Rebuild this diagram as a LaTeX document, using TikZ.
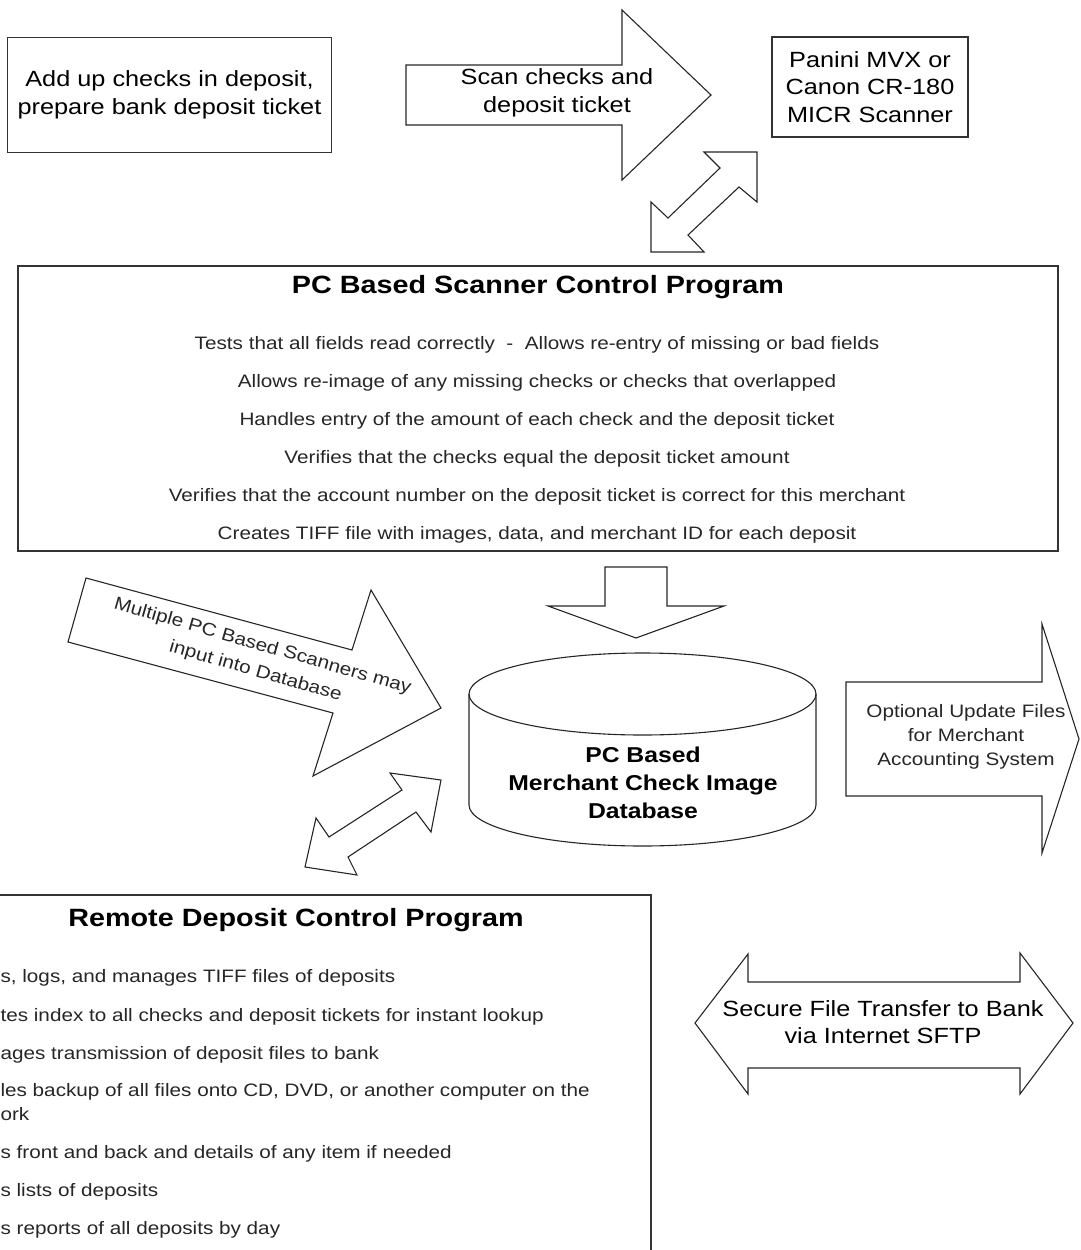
\documentclass[tikz,border=0pt]{standalone}
\usepackage{fontspec}
\setmainfont{Liberation Sans}[FakeStretch=1.15]

\begin{document}
\begin{tikzpicture}[x=1pt, y=-1pt, line width=1.1pt,
    box/.style={draw=black!80, line width=1.6pt, inner sep=0pt},
    freccia/.style={draw=black!85, line width=1.1pt, line join=miter},
    testo/.style={align=center, inner sep=0pt, font=\fontsize{22}{27.5}\selectfont},
    piccolo/.style={align=center, inner sep=0pt, text=black!85, font=\fontsize{18}{24}\selectfont},
    riga/.style={anchor=base, inner sep=0pt, text=black!85, font=\fontsize{18}{22}\selectfont},
    titolo/.style={inner sep=0pt, font=\bfseries\fontsize{25}{30}\selectfont}]

    % Margini della figura
    \useasboundingbox (0,0) rectangle (1080,1250);
    \clip (0,0) rectangle (1080,1250);

    % -- Parte Alta: preparazione e scanner --
    \node[box, testo, minimum width=324, minimum height=115] (somma) at (169.5,95)
        {Add up checks in deposit,\\prepare bank deposit ticket};

    \draw[freccia] (406,65) -- (622,65) -- (622,10) -- (711,95)
                   -- (622,180) -- (622,125) -- (406,125) -- cycle;
    \node[testo] (scansione) at (557,93) {Scan checks and\\deposit ticket};

    \node[box, testo, text depth=0pt, minimum width=196, minimum height=100] (scanner) at (870,87)
        {Panini MVX or\\Canon CR-180\\MICR Scanner};

    % Doppia freccia scanner <-> programma
    \draw[freccia] (704,152) -- (757,152) -- (757,202) -- (739,187) -- (688,235)
                   -- (704,252) -- (651,252) -- (651,202) -- (668,218) -- (720,168) -- cycle;

    % -- Parte Centrale: programma di controllo --
    \node[box, minimum width=1040, minimum height=285] (controllo) at (538,408.5) {};
    \node[titolo] (titoloPC) at (538,287) {PC Based Scanner Control Program};
    \node[riga] (r1) at (537,349) {Tests that all fields read correctly\ \ -\ \ Allows re-entry of missing or bad fields};
    \node[riga] (r2) at (537,387) {Allows re-image of any missing checks or checks that overlapped};
    \node[riga] (r3) at (537,425) {Handles entry of the amount of each check and the deposit ticket};
    \node[riga] (r4) at (537,463) {Verifies that the checks equal the deposit ticket amount};
    \node[riga] (r5) at (537,501) {Verifies that the account number on the deposit ticket is correct for this merchant};
    \node[riga] (r6) at (537,539) {Creates TIFF file with images, data, and merchant ID for each deposit};

    % Freccia verso il database
    \draw[freccia] (605,567) -- (667,567) -- (667,606) -- (724,606) -- (636,638)
                   -- (548,606) -- (605,606) -- cycle;

    % Database (cilindro)
    \draw[freccia] (469,694) -- (469,805) arc[start angle=180, end angle=0, x radius=173.5, y radius=41]
                   -- (816,694);
    \draw[freccia] (642.5,694) ellipse [x radius=173.5, y radius=41];
    \node[align=center, inner sep=0pt, font=\bfseries\fontsize{21.5}{28}\selectfont] (database) at (643,783)
        {PC Based\\Merchant Check Image\\Database};

    % Scanner multipli
    \draw[freccia] (86,578) -- (352,650) -- (371,590) -- (441,708) -- (313,776)
                   -- (333,713) -- (68,642) -- cycle;
    \node[piccolo, rotate=-16, font=\fontsize{18}{26}\selectfont] (multipli) at (259,659)
        {Multiple PC Based Scanners may\\input into Database};

    % Doppia freccia database <-> controllo remoto
    \draw[freccia] (390,773) -- (441,780) -- (431,832) -- (416,812) -- (348,857)
                   -- (357,875) -- (305,867) -- (316,818) -- (329,837) -- (402,790) -- cycle;

    % -- Parte Destra: aggiornamenti e trasferimento --
    \draw[freccia] (846,682) -- (1042,682) -- (1042,624) -- (1079,739) -- (1042,853)
                   -- (1042,796) -- (846,796) -- cycle;
    \node[piccolo] (opzionali) at (966,737)
        {Optional Update Files\\for Merchant\\Accounting System};

    \draw[freccia] (695,1023) -- (748,954) -- (748,982) -- (1020,982) -- (1020,953)
                   -- (1073,1023) -- (1020,1094) -- (1020,1068) -- (748,1068) -- (748,1094) -- cycle;
    \node[testo] (sftp) at (883,1022) {Secure File Transfer to Bank\\via Internet SFTP};

    % -- Parte Bassa: controllo remoto (tagliato a sinistra) --
    \node[box, minimum width=681, minimum height=380] (remoto) at (310.5,1085) {};
    \node[titolo] (titoloRD) at (296,920) {Remote Deposit Control Program};
    \node[riga, anchor=base west] (l1) at (0,982) {s, logs, and manages TIFF files of deposits};
    \node[riga, anchor=base west] (l2) at (0,1021) {tes index to all checks and deposit tickets for instant lookup};
    \node[riga, anchor=base west] (l3) at (0,1059) {ages transmission of deposit files to bank};
    \node[riga, anchor=base west] (l4) at (0,1096) {les backup of all files onto CD, DVD, or another computer on the};
    \node[riga, anchor=base west] (l4b) at (0,1120) {ork};
    \node[riga, anchor=base west] (l5) at (0,1158) {s front and back and details of any item if needed};
    \node[riga, anchor=base west] (l6) at (0,1196) {s lists of deposits};
    \node[riga, anchor=base west] (l7) at (0,1234) {s reports of all deposits by day};

\end{tikzpicture}
\end{document}
